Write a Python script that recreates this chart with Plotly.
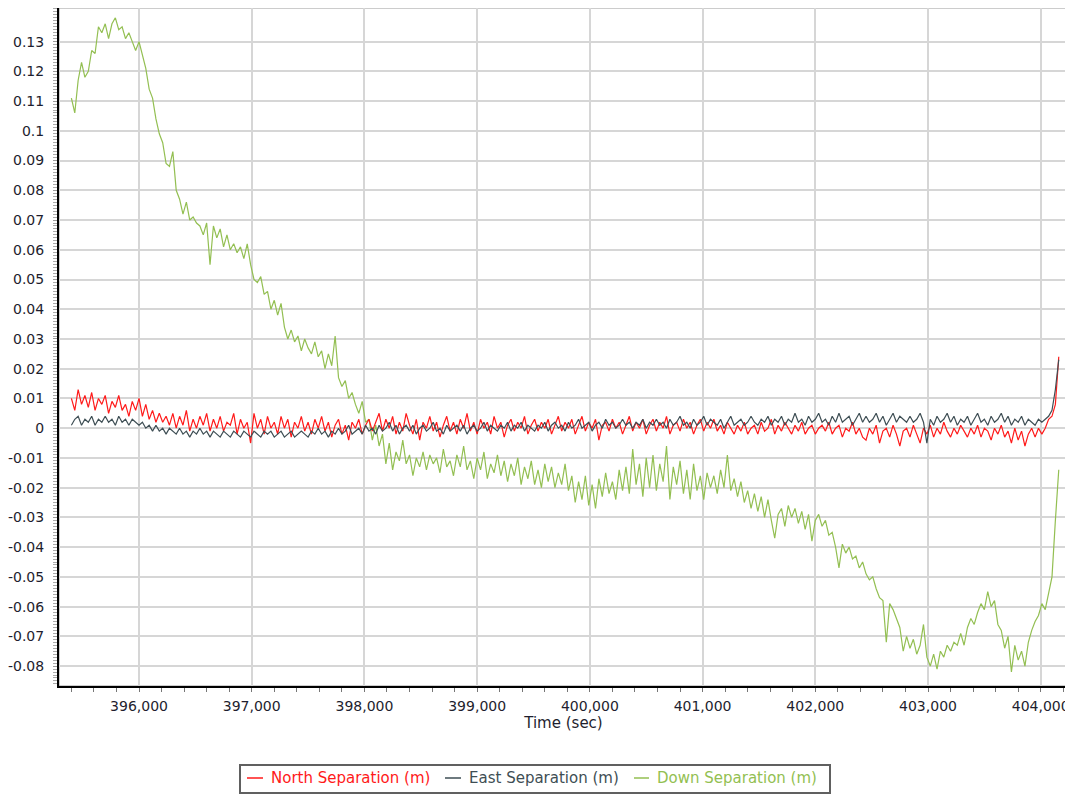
import plotly.graph_objects as go

# Time axis: samples every 30 s from 395,400 to 404,160 s
TIME = list(range(395400, 404161, 30))

NORTH = [
    0.010, 0.006, 0.013, 0.008, 0.011, 0.007, 0.012, 0.006, 0.010, 0.008,
    0.011, 0.005, 0.009, 0.007, 0.011, 0.006, 0.008, 0.004, 0.009, 0.006,
    0.010, 0.004, 0.008, 0.003, 0.006, 0.002, 0.005, 0.002, 0.004, 0.001,
    0.005, 0.000, 0.004, 0.001, 0.006, -0.001, 0.003, 0.000, 0.004, 0.001,
    0.005, -0.001, 0.003, 0.000, 0.004, -0.001, 0.002, 0.001, 0.005, -0.002,
    0.003, 0.000, 0.002, -0.005, 0.005, 0.000, 0.003, -0.002, 0.004, 0.000,
    0.002, -0.002, 0.004, 0.000, 0.003, -0.003, 0.002, 0.000, 0.004, -0.001,
    0.002, -0.002, 0.003, 0.000, 0.004, -0.001, 0.002, -0.003, 0.001, 0.003,
    -0.002, 0.001, -0.004, 0.002, 0.000, 0.003, -0.002, 0.001, 0.003, -0.001,
    0.002, 0.005, -0.001, 0.003, 0.000, 0.004, -0.002, 0.002, -0.001, 0.005,
    0.001, -0.002, 0.003, -0.004, 0.002, 0.000, 0.004, -0.001, 0.002, -0.003,
    0.001, 0.004, -0.001, 0.002, -0.002, 0.003, 0.000, 0.005, -0.001, 0.002,
    -0.002, 0.003, 0.000, 0.002, -0.002, 0.004, 0.000, 0.002, -0.003, 0.001,
    0.003, -0.001, 0.002, 0.000, 0.004, -0.002, 0.001, 0.003, -0.001, 0.002,
    0.000, 0.003, -0.002, 0.001, 0.004, -0.001, 0.002, 0.000, 0.003, -0.002,
    0.001, 0.004, -0.001, 0.002, 0.000, 0.003, -0.004, 0.001, 0.002, -0.001,
    0.003, 0.000, 0.002, -0.002, 0.001, 0.004, -0.001, 0.002, 0.000, 0.003,
    -0.002, 0.001, 0.003, -0.001, 0.002, 0.000, 0.004, -0.002, 0.001, 0.002,
    -0.001, 0.003, 0.000, 0.002, -0.002, 0.001, 0.003, -0.001, 0.002, 0.000,
    0.003, -0.001, 0.001, -0.002, 0.002, 0.000, -0.002, 0.001, -0.001, 0.002,
    -0.002, 0.000, 0.001, -0.002, 0.002, -0.001, 0.000, 0.003, -0.002, 0.001,
    -0.001, 0.002, 0.000, -0.002, 0.001, -0.001, 0.002, -0.002, 0.000, 0.001,
    -0.002, 0.000, 0.001, -0.001, 0.002, -0.002, 0.000, 0.001, -0.003, 0.000,
    -0.001, 0.002, -0.002, 0.000, -0.003, -0.004, 0.000, -0.002, 0.001, -0.005,
    -0.001, 0.000, -0.003, 0.001, -0.002, -0.006, -0.001, 0.000, -0.003, 0.001,
    -0.002, -0.005, 0.000, -0.002, 0.001, -0.003, 0.000, -0.002, 0.002, -0.001,
    -0.003, 0.000, -0.002, 0.001, -0.001, -0.003, 0.000, -0.002, 0.001, -0.003,
    0.000, -0.001, -0.004, 0.000, -0.002, 0.001, -0.003, -0.001, -0.005, 0.000,
    -0.004, -0.001, -0.006, -0.002, 0.000, -0.003, 0.000, -0.002, 0.000, 0.003,
    0.004, 0.008, 0.024,
]

EAST = [
    0.001, 0.003, 0.004, 0.001, 0.003, 0.002, 0.004, 0.001, 0.003, 0.002,
    0.004, 0.002, 0.003, 0.001, 0.004, 0.002, 0.003, 0.001, 0.003, 0.002,
    0.001, 0.002, 0.000, 0.001, -0.001, 0.001, -0.001, 0.000, -0.002, 0.000,
    -0.001, -0.002, 0.000, -0.002, -0.001, -0.003, -0.001, -0.002, 0.000, -0.002,
    -0.001, -0.003, -0.001, -0.002, -0.003, -0.001, -0.002, -0.003, -0.001, -0.002,
    -0.003, -0.001, -0.002, -0.003, -0.001, -0.002, -0.003, -0.001, -0.002, -0.001,
    -0.003, -0.002, -0.001, -0.003, -0.002, -0.001, -0.003, -0.002, -0.001, -0.002,
    -0.003, -0.001, -0.002, 0.000, -0.002, -0.001, -0.003, -0.001, -0.002, 0.000,
    -0.002, -0.001, 0.001, -0.002, -0.001, 0.000, -0.002, 0.001, -0.001, 0.000,
    -0.002, 0.001, -0.001, 0.000, 0.002, -0.001, 0.001, -0.002, 0.000, 0.001,
    -0.001, 0.001, -0.002, 0.000, 0.001, -0.001, 0.000, 0.002, -0.001, 0.000,
    -0.002, 0.001, -0.001, 0.000, 0.001, -0.001, 0.001, -0.002, 0.000, 0.001,
    -0.001, 0.000, 0.002, -0.001, 0.001, 0.000, -0.001, 0.001, 0.000, 0.002,
    -0.001, 0.001, 0.000, 0.002, -0.001, 0.001, 0.000, -0.001, 0.001, 0.000,
    0.002, -0.001, 0.001, 0.002, 0.000, 0.001, -0.001, 0.002, 0.000, 0.001,
    0.003, 0.000, 0.001, 0.002, -0.001, 0.001, 0.002, 0.000, 0.003, 0.001,
    0.002, 0.000, 0.001, 0.003, 0.001, 0.002, 0.000, 0.002, 0.001, 0.003,
    0.000, 0.002, 0.001, 0.003, 0.001, 0.002, 0.000, 0.003, 0.001, 0.002,
    0.004, 0.001, 0.002, 0.000, 0.003, 0.001, 0.002, 0.004, 0.001, 0.003,
    0.002, 0.001, 0.003, 0.000, 0.002, 0.004, 0.001, 0.002, 0.003, 0.001,
    0.002, 0.004, 0.002, 0.001, 0.003, 0.002, 0.004, 0.001, 0.003, 0.002,
    0.004, 0.001, 0.003, 0.002, 0.005, 0.002, 0.003, 0.001, 0.004, 0.002,
    0.003, 0.005, 0.002, 0.003, 0.001, 0.004, 0.002, 0.005, 0.002, 0.003,
    0.004, 0.001, 0.003, 0.005, 0.002, 0.004, 0.002, 0.003, 0.005, 0.002,
    0.004, 0.001, 0.003, 0.005, 0.002, 0.004, 0.003, 0.002, 0.004, 0.002,
    0.003, 0.005, 0.002, -0.005, 0.003, 0.001, 0.004, 0.002, 0.003, 0.005,
    0.002, 0.004, 0.001, 0.003, 0.002, 0.004, 0.001, 0.003, 0.005, 0.002,
    0.003, 0.001, 0.004, 0.002, 0.003, 0.005, 0.002, 0.004, 0.001, 0.003,
    0.002, 0.004, 0.001, 0.003, 0.002, 0.001, 0.003, 0.002, 0.003, 0.004,
    0.006, 0.013, 0.023,
]

DOWN = [
    0.111, 0.106, 0.117, 0.123, 0.118, 0.120, 0.127, 0.126, 0.135, 0.133,
    0.136, 0.131, 0.136, 0.138, 0.134, 0.135, 0.131, 0.133, 0.130, 0.127,
    0.130, 0.125, 0.121, 0.114, 0.111, 0.104, 0.099, 0.096, 0.089, 0.088,
    0.093, 0.080, 0.077, 0.072, 0.076, 0.070, 0.071, 0.069, 0.068, 0.065,
    0.069, 0.055, 0.068, 0.064, 0.067, 0.061, 0.065, 0.060, 0.062, 0.059,
    0.061, 0.057, 0.062, 0.055, 0.050, 0.049, 0.051, 0.045, 0.046, 0.040,
    0.043, 0.038, 0.042, 0.034, 0.030, 0.033, 0.029, 0.031, 0.026, 0.030,
    0.027, 0.025, 0.029, 0.024, 0.026, 0.020, 0.025, 0.021, 0.031, 0.017,
    0.014, 0.016, 0.010, 0.012, 0.008, 0.005, 0.009, 0.002, 0.003, -0.004,
    0.001, -0.006, -0.002, -0.012, -0.005, -0.014, -0.008, -0.011, -0.004, -0.012,
    -0.009, -0.016, -0.010, -0.013, -0.008, -0.014, -0.009, -0.012, -0.010, -0.015,
    -0.007, -0.013, -0.011, -0.016, -0.009, -0.013, -0.006, -0.014, -0.011, -0.017,
    -0.010, -0.014, -0.008, -0.017, -0.012, -0.015, -0.009, -0.016, -0.011, -0.018,
    -0.012, -0.016, -0.010, -0.019, -0.013, -0.017, -0.011, -0.019, -0.014, -0.020,
    -0.012, -0.018, -0.013, -0.020, -0.015, -0.019, -0.012, -0.021, -0.016, -0.025,
    -0.018, -0.024, -0.016, -0.026, -0.019, -0.027, -0.017, -0.023, -0.015, -0.022,
    -0.018, -0.024, -0.014, -0.021, -0.013, -0.022, -0.007, -0.019, -0.012, -0.023,
    -0.010, -0.020, -0.009, -0.021, -0.012, -0.018, -0.006, -0.024, -0.013, -0.019,
    -0.011, -0.022, -0.014, -0.024, -0.012, -0.021, -0.016, -0.024, -0.015, -0.020,
    -0.016, -0.022, -0.014, -0.020, -0.009, -0.021, -0.017, -0.023, -0.018, -0.025,
    -0.021, -0.027, -0.022, -0.028, -0.023, -0.030, -0.024, -0.031, -0.037, -0.029,
    -0.027, -0.033, -0.026, -0.030, -0.027, -0.032, -0.028, -0.034, -0.029, -0.038,
    -0.031, -0.029, -0.033, -0.031, -0.036, -0.035, -0.040, -0.047, -0.039, -0.042,
    -0.040, -0.044, -0.043, -0.047, -0.045, -0.049, -0.051, -0.050, -0.054, -0.057,
    -0.058, -0.072, -0.059, -0.061, -0.064, -0.067, -0.075, -0.070, -0.074, -0.071,
    -0.076, -0.073, -0.066, -0.077, -0.080, -0.076, -0.081, -0.075, -0.077, -0.073,
    -0.075, -0.072, -0.073, -0.069, -0.073, -0.067, -0.064, -0.066, -0.062, -0.059,
    -0.061, -0.055, -0.060, -0.058, -0.066, -0.068, -0.074, -0.070, -0.082, -0.073,
    -0.078, -0.075, -0.080, -0.072, -0.068, -0.065, -0.063, -0.059, -0.061, -0.055,
    -0.050, -0.031, -0.014,
]

SERIES_NAMES = ["North Separation (m)", "East Separation (m)", "Down Separation (m)"]
SERIES_COLORS = ["#ff1a1a", "#3e4e54", "#93bf52"]

X_TICKS = [396000, 397000, 398000, 399000, 400000, 401000, 402000, 403000, 404000]
X_TICK_LABELS = ["396,000", "397,000", "398,000", "399,000", "400,000",
                 "401,000", "402,000", "403,000", "404,000"]
Y_TICKS = [0.13, 0.12, 0.11, 0.10, 0.09, 0.08, 0.07, 0.06, 0.05, 0.04, 0.03, 0.02,
           0.01, 0.0, -0.01, -0.02, -0.03, -0.04, -0.05, -0.06, -0.07, -0.08]
Y_TICK_LABELS = ["0.13", "0.12", "0.11", "0.1", "0.09", "0.08", "0.07", "0.06",
                 "0.05", "0.04", "0.03", "0.02", "0.01", "0", "-0.01", "-0.02",
                 "-0.03", "-0.04", "-0.05", "-0.06", "-0.07", "-0.08"]

FONT = "DejaVu Sans, Verdana, sans-serif"
TEXT_COLOR = "#1e1e2e"

# ---- layout geometry (page pixels); the page body adds an 8px margin ----
PAGE_OFF = 8
W, H = 1073 - PAGE_OFF, 794 - PAGE_OFF
PL, PR, PT, PB = 59, 1068, 8, 686   # plot area edges on the page


def px_x(x):
    return (x - PL) / (PR - PL)


def px_y(y):
    return (PB - y) / (PB - PT)


fig = go.Figure()
data_by_name = {SERIES_NAMES[0]: NORTH, SERIES_NAMES[1]: EAST, SERIES_NAMES[2]: DOWN}
for idx in [2, 0, 1]:
    name = SERIES_NAMES[idx]
    vals = data_by_name[name]
    fig.add_trace(go.Scatter(
        x=TIME[:len(vals)], y=vals, mode="lines", name=name,
        line=dict(color=SERIES_COLORS[idx], width=1.2),
        showlegend=False,
    ))

# ---- legend box with short swatches, as in the reference ----
LEG_BOX = (240, 830, 765, 793)
LEG_SWATCH_X = [(247, 263), (445, 461), (634, 649)]
LEG_TEXT_X = [270, 468, 656]
LEG_Y = 778

shapes = [
    dict(type="rect", xref="paper", yref="paper", x0=0, x1=1, y0=0, y1=1,
         line=dict(color="#9a9a9a", width=1), layer="below"),
    dict(type="rect", xref="paper", yref="paper",
         x0=px_x(LEG_BOX[0]), x1=px_x(LEG_BOX[1]),
         y0=px_y(LEG_BOX[2]), y1=px_y(LEG_BOX[3]),
         line=dict(color="#606060", width=2), fillcolor="white"),
]
annotations = []
for i, name in enumerate(SERIES_NAMES):
    x0, x1 = LEG_SWATCH_X[i]
    shapes.append(dict(type="line", xref="paper", yref="paper",
                       x0=px_x(x0), x1=px_x(x1), y0=px_y(LEG_Y), y1=px_y(LEG_Y),
                       line=dict(color=SERIES_COLORS[i], width=1.5)))
    annotations.append(dict(
        xref="paper", yref="paper", x=px_x(LEG_TEXT_X[i]), y=px_y(LEG_Y),
        xanchor="left", yanchor="middle", showarrow=False, text=name,
        font=dict(family=FONT, size=15, color=SERIES_COLORS[i]), borderpad=0,
    ))

grid = "#d6d6d6"
fig.update_layout(
    width=W, height=H,
    margin=dict(l=PL - PAGE_OFF, r=(PAGE_OFF + W) - PR, t=PT - PAGE_OFF, b=(PAGE_OFF + H) - PB),
    paper_bgcolor="white", plot_bgcolor="white",
    font=dict(family=FONT, size=14, color=TEXT_COLOR),
    showlegend=False,
    xaxis=dict(
        range=[395290, 404242], tickvals=X_TICKS, ticktext=X_TICK_LABELS,
        automargin=False,
        showgrid=True, gridcolor=grid, gridwidth=1.5,
        showline=True, linecolor="black", linewidth=2,
        ticks="outside", ticklen=4, tickcolor="#777", tickwidth=1,
        minor=dict(dtick=200, tick0=395400, ticks="outside", ticklen=4,
                   tickcolor="#777", showgrid=False),
        ticklabelstandoff=2,
        zeroline=False,
        tickfont=dict(family=FONT, size=14, color=TEXT_COLOR),
        title=dict(text="Time (sec)", standoff=2,
                   font=dict(family=FONT, size=15, color=TEXT_COLOR)),
    ),
    yaxis=dict(
        range=[-0.0867, 0.1413], tickvals=Y_TICKS, ticktext=Y_TICK_LABELS,
        automargin=False,
        showgrid=True, gridcolor=grid, gridwidth=1.5,
        showline=True, linecolor="black", linewidth=2,
        ticks="outside", ticklen=4, tickcolor="#999", tickwidth=1,
        minor=dict(dtick=0.001, tick0=0, ticks="outside", ticklen=4,
                   tickcolor="#aaa", showgrid=False),
        ticklabelstandoff=6,
        zeroline=False,
        tickfont=dict(family=FONT, size=14, color=TEXT_COLOR),
    ),
    shapes=shapes,
    annotations=annotations,
)

fig.write_html("out.html")
